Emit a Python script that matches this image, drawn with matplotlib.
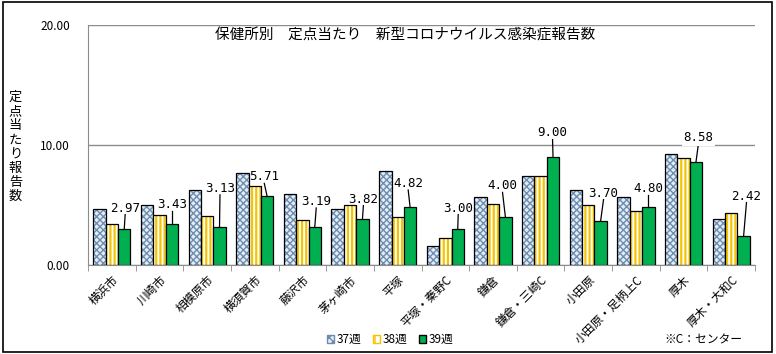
import numpy as np
import matplotlib.pyplot as plt
from matplotlib.patches import Patch

plt.rcParams['font.family'] = ['Noto Sans CJK JP', 'DejaVu Sans']

areas = ["横浜市", "川崎市", "相模原市", "横須賀市", "藤沢市", "茅ヶ崎市", "平塚",
         "平塚・秦野C", "鎌倉", "鎌倉・三崎C", "小田原", "小田原・足柄上C", "厚木", "厚木・大和C"]
week37 = [4.64, 4.97, 6.22, 7.64, 5.89, 4.64, 7.81, 1.56, 5.64, 7.39, 6.22, 5.64, 9.22, 3.81]
week38 = [3.39, 4.14, 4.06, 6.56, 3.72, 4.97, 3.97, 2.22, 5.06, 7.39, 4.97, 4.50, 8.89, 4.33]
week39 = [2.97, 3.43, 3.13, 5.71, 3.19, 3.82, 4.82, 3.00, 4.00, 9.00, 3.70, 4.80, 8.58, 2.42]
series_names = ["37週", "38週", "39週"]

# where each green-bar label sits: (x offset from category, label y)
label_pos = [(0.28, 4.75), (0.26, 5.08), (0.27, 6.4), (0.20, 7.35), (0.29, 5.3),
             (0.28, 5.5), (0.22, 6.8), (0.27, 4.75), (0.20, 6.6), (0.25, 11.0),
             (0.32, 6.0), (0.26, 6.4), (0.31, 10.6), (0.32, 5.75)]

blue_face, blue_hatch = "#e4ecf5", "#6d8db0"
yellow = "#f5c400"

fig = plt.figure(figsize=(7.76, 3.54), dpi=100)
ax = fig.add_axes([0.1134, 0.2514, 0.8596, 0.678])

x = np.arange(len(areas))
w = 0.26
# week 37: fine dotted blue
plt.rcParams['hatch.linewidth'] = 1.0
ax.bar(x - w, week37, w, color=blue_face, edgecolor=blue_hatch, hatch="xxxxx", linewidth=0)
ax.bar(x - w, week37, w, color="none", edgecolor="black", linewidth=0.9)
# week 38: yellow stripes
plt.rcParams['hatch.linewidth'] = 1.6
ax.bar(x, week38, w, color="white", edgecolor=yellow, hatch="||||", linewidth=0)
ax.bar(x, week38, w, color="none", edgecolor="black", linewidth=0.9)
# week 39: green
ax.bar(x + w, week39, w, color="#00b050", edgecolor="black", linewidth=0.9)

for i, v in enumerate(week39):
    dx, ly = label_pos[i]
    lx = i + dx
    ax.plot([i + w, lx], [v, ly - 0.55], color="black", lw=0.9)
    bg = dict(facecolor="white", edgecolor="none", pad=1) if i == 12 else None
    ax.text(lx, ly, f"{v:.2f}", ha="center", va="center", fontsize=9,
            family="DejaVu Sans Mono", bbox=bg)

ax.set_xlim(-0.5, len(areas) - 0.5)
ax.set_ylim(0, 20)
ax.set_yticks([0, 10, 20])
ax.set_yticklabels(["0.00", "10.00", "20.00"], fontsize=8.5)
ax.tick_params(axis="y", length=0, pad=13)
ax.yaxis.grid(True, color="#8c8c8c", lw=1)
ax.set_axisbelow(True)

ax.set_xticks(x)
ax.set_xticklabels(areas, rotation=45, ha="right", rotation_mode="anchor", fontsize=8.5)
ax.tick_params(axis="x", length=0, pad=6)
ax.set_xticks(np.arange(-0.5, len(areas)), minor=True)
ax.tick_params(axis="x", which="minor", length=4, color="#8c8c8c")

for s in ["top", "right"]:
    ax.spines[s].set_visible(False)
ax.spines["left"].set_color("#8c8c8c")
ax.spines["bottom"].set_color("#8c8c8c")

ax.text(0.475, 0.955, "保健所別　定点当たり　新型コロナウイルス感染症報告数",
        transform=ax.transAxes, ha="center", va="center", fontsize=10.5)

fig.text(0.02, 0.585, "\n".join("定点当たり報告数"), ha="center", va="center",
         fontsize=9.5, linespacing=1.12)

plt.rcParams['hatch.linewidth'] = 1.0
handles = [Patch(facecolor=blue_face, edgecolor=blue_hatch, hatch="xxxx"),
           Patch(facecolor="white", edgecolor=yellow, hatch="|||"),
           Patch(facecolor="#00b050", edgecolor="black")]
fig.legend(handles, series_names, loc="center", bbox_to_anchor=(0.503, 0.04), ncol=3,
           frameon=False, fontsize=8.5, handlelength=0.6, handleheight=0.6,
           handletextpad=0.2, columnspacing=1.0)
fig.text(0.957, 0.04, "※C：センター", ha="right", va="center", fontsize=8.5)

fig.patches.append(plt.Rectangle((0.004, 0.006), 0.991, 0.988, transform=fig.transFigure,
                                 fill=False, edgecolor="black", lw=1.2))

fig.savefig("out.png", dpi=100)
